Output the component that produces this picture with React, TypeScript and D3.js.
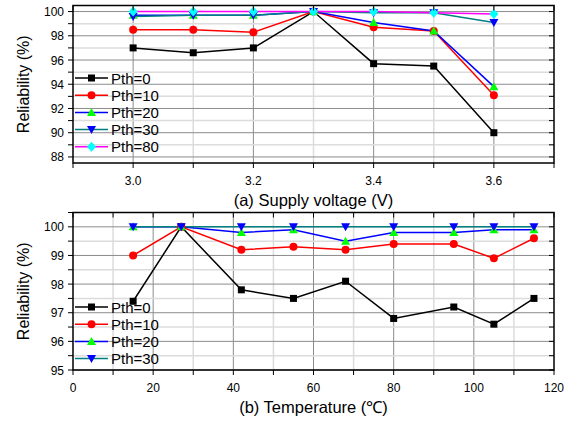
import React from 'react';
import * as d3 from 'd3';

// top panel: reliability vs supply voltage
const voltages = [3.0, 3.1, 3.2, 3.3, 3.4, 3.5, 3.6];
const voltPth0 = [97.0, 96.6, 97.0, 100, 95.7, 95.5, 90.0];
const voltPth10 = [98.5, 98.5, 98.3, 100, 98.7, 98.4, 93.1];
const voltPth20 = [99.7, 99.7, 99.7, 100, 99.1, 98.4, 93.8];
const voltPth30 = [99.6, 99.7, 99.7, 100, 99.9, 99.9, 99.1];
const voltPth80 = [100, 100, 100, 100, 100, 99.9, 99.8];

// bottom panel: reliability vs temperature
const temps = [15, 27, 42, 55, 68, 80, 95, 105, 115];
const tempPth0 = [97.4, 100, 97.8, 97.5, 98.1, 96.8, 97.2, 96.6, 97.5];
const tempPth10 = [99.0, 100, 99.2, 99.3, 99.2, 99.4, 99.4, 98.9, 99.6];
const tempPth20 = [100, 100, 99.8, 99.9, 99.5, 99.8, 99.8, 99.9, 99.9];
const tempPth30 = [100, 100, 100, 100, 100, 100, 100, 100, 100];

const voltTicks = [3.0, 3.2, 3.4, 3.6];
const voltY = [88, 90, 92, 94, 96, 98, 100];
const tempTicks = [0, 20, 40, 60, 80, 100, 120];
const tempY = [95, 96, 97, 98, 99, 100];

type Style = { name: string; line: string; fill: string; shape: string };
const styles: Style[] = [
  { name: 'Pth=0', line: '#000000', fill: '#000000', shape: 'square' },
  { name: 'Pth=10', line: '#ff0000', fill: '#ff0000', shape: 'circle' },
  { name: 'Pth=20', line: '#0000ff', fill: '#00ff00', shape: 'up' },
  { name: 'Pth=30', line: '#008080', fill: '#0000ff', shape: 'down' },
  { name: 'Pth=80', line: '#ff00ff', fill: '#00ffff', shape: 'diamond' },
];

const FONT = 'Liberation Sans, Arial, sans-serif';

const Marker = ({ x, y, shape, fill }: { x: number; y: number; shape: string; fill: string }) => {
  if (shape === 'square') return <rect x={x - 3.5} y={y - 3.5} width={7} height={7} fill={fill} />;
  if (shape === 'circle') return <circle cx={x} cy={y} r={4} fill={fill} />;
  if (shape === 'up') return <path d={`M${x},${y - 4.5}L${x + 4.5},${y + 3.5}L${x - 4.5},${y + 3.5}Z`} fill={fill} />;
  if (shape === 'down') return <path d={`M${x},${y + 4.5}L${x + 4.5},${y - 3.5}L${x - 4.5},${y - 3.5}Z`} fill={fill} />;
  return <path d={`M${x},${y - 5}L${x + 4.5},${y}L${x},${y + 5}L${x - 4.5},${y}Z`} fill={fill} />;
};

type PanelProps = {
  xs: number[];
  series: number[][];
  xDomain: [number, number];
  yDomain: [number, number];
  xTicks: number[];
  xMinor: number;
  yTicks: number[];
  yMinor: number;
  xFmt: (v: number) => string;
  top: number;
  bottom: number;
  title: string;
  legendY: number;
};

const Panel = (p: PanelProps) => {
  const left = 73;
  const right = 554;
  const x = d3.scaleLinear().domain(p.xDomain).range([left, right]);
  const y = d3.scaleLinear().domain(p.yDomain).range([p.bottom, p.top]);
  const xAll = d3.range(p.xDomain[0], p.xDomain[1] + p.xMinor / 2, p.xMinor);
  const yStart = Math.ceil(p.yDomain[0] / p.yMinor) * p.yMinor;
  const yAll = d3.range(yStart, p.yDomain[1] + 1e-6, p.yMinor);
  const isMajorX = (v: number) => p.xTicks.some((t) => Math.abs(t - v) < 1e-6);
  const isMajorY = (v: number) => p.yTicks.some((t) => Math.abs(t - v) < 1e-6);
  const line = d3
    .line<number>()
    .x((d, i) => x(p.xs[i]))
    .y((d) => y(d));

  return (
    <g>
      {/* grid */}
      {xAll.filter((v) => v > p.xDomain[0] + 1e-6 && v < p.xDomain[1] - 1e-6).map((v, i) => (
        <line key={'gx' + i} x1={x(v)} x2={x(v)} y1={p.top} y2={p.bottom}
          stroke={isMajorX(v) ? '#8c8c8c' : '#dcdcdc'} strokeWidth={isMajorX(v) ? 1 : 1.5} />
      ))}
      {yAll.filter((v) => v < p.yDomain[1] - 1e-6).map((v, i) => (
        <line key={'gy' + i} x1={left} x2={right} y1={y(v)} y2={y(v)}
          stroke={isMajorY(v) ? '#8c8c8c' : '#dcdcdc'} strokeWidth={isMajorY(v) ? 1 : 1.5} />
      ))}
      {/* series */}
      {p.series.map((s, si) => (
        <path key={'l' + si} d={line(s) || ''} fill="none" stroke={styles[si].line} strokeWidth={1.5} />
      ))}
      {p.series.map((s, si) =>
        s.map((v, i) => (
          <Marker key={'m' + si + '-' + i} x={x(p.xs[i])} y={y(v)} shape={styles[si].shape} fill={styles[si].fill} />
        ))
      )}
      {/* frame */}
      <rect x={left} y={p.top} width={right - left} height={p.bottom - p.top} fill="none" stroke="#000" strokeWidth={1.5} />
      {/* x ticks */}
      {xAll.map((v, i) => (
        <g key={'tx' + i}>
          <line x1={x(v)} x2={x(v)} y1={p.bottom} y2={p.bottom + 5} stroke="#000" strokeWidth={1} />
          <line x1={x(v)} x2={x(v)} y1={p.top} y2={p.top + 5} stroke="#000" strokeWidth={1} />
        </g>
      ))}
      {p.xTicks.map((v, i) => (
        <text key={'xl' + i} x={x(v)} y={p.bottom + 22} textAnchor="middle" fontSize={12} fontFamily={FONT}>
          {p.xFmt(v)}
        </text>
      ))}
      {/* y ticks */}
      {yAll.map((v, i) => (
        <g key={'ty' + i}>
          <line x1={left - 5} x2={left} y1={y(v)} y2={y(v)} stroke="#000" strokeWidth={1} />
          <line x1={right - 5} x2={right} y1={y(v)} y2={y(v)} stroke="#000" strokeWidth={1} />
        </g>
      ))}
      {p.yTicks.map((v, i) => (
        <text key={'yl' + i} x={left - 9} y={y(v) + 4.5} textAnchor="end" fontSize={12} fontFamily={FONT}>
          {v}
        </text>
      ))}
      <text
        transform={`translate(29,${(p.top + p.bottom) / 2}) rotate(-90)`}
        textAnchor="middle"
        fontSize={16}
        fontFamily={FONT}
      >
        Reliability (%)
      </text>
      <text x={(left + right) / 2} y={p.bottom + 43} textAnchor="middle" fontSize={16.5} fontFamily={FONT}>
        {p.title}
      </text>
      {/* legend */}
      {p.series.map((s, si) => {
        const ly = p.legendY + si * 17.2;
        return (
          <g key={'lg' + si}>
            <line x1={75} x2={108} y1={ly} y2={ly} stroke={styles[si].line} strokeWidth={1.5} />
            <Marker x={91.5} y={ly} shape={styles[si].shape} fill={styles[si].fill} />
            <text x={111} y={ly + 5.5} fontSize={15} fontFamily={FONT}>
              {styles[si].name}
            </text>
          </g>
        );
      })}
    </g>
  );
};

export default function App() {
  return (
    <div style={{ position: 'absolute', left: 0, top: 0 }}>
      <svg width={577} height={422} style={{ display: 'block', background: '#fff' }}>
        <Panel
          xs={voltages}
          series={[voltPth0, voltPth10, voltPth20, voltPth30, voltPth80]}
          xDomain={[2.9, 3.7]}
          yDomain={[87.5, 100.5]}
          xTicks={voltTicks}
          xMinor={0.1}
          yTicks={voltY}
          yMinor={1}
          xFmt={(v) => v.toFixed(1)}
          top={5.5}
          bottom={163}
          title="(a) Supply voltage (V)"
          legendY={78}
        />
        <Panel
          xs={temps}
          series={[tempPth0, tempPth10, tempPth20, tempPth30]}
          xDomain={[0, 120]}
          yDomain={[95, 100.5]}
          xTicks={tempTicks}
          xMinor={10}
          yTicks={tempY}
          yMinor={0.5}
          xFmt={(v) => String(v)}
          top={212.5}
          bottom={370}
          title="(b) Temperature (℃)"
          legendY={307}
        />
      </svg>
    </div>
  );
}
